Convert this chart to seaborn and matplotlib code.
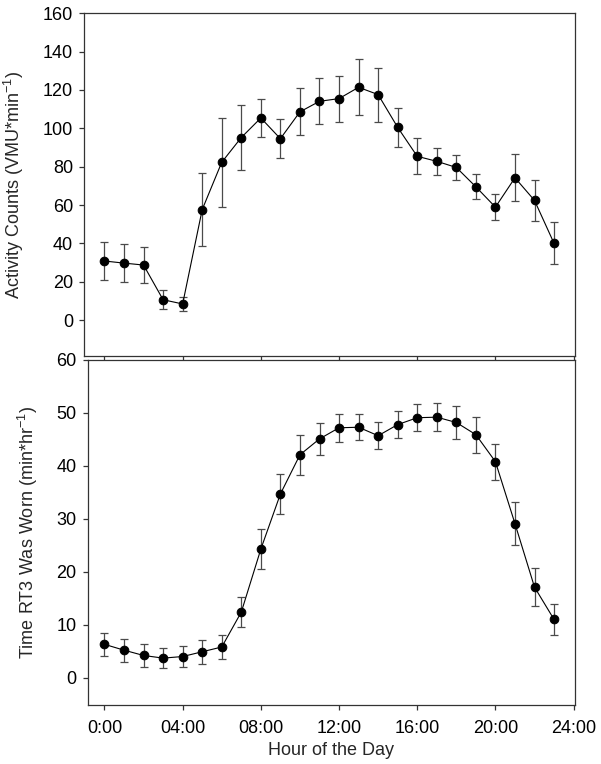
import numpy as np
import pandas as pd
import seaborn as sns
import matplotlib
matplotlib.use("Agg")
import matplotlib.pyplot as plt

# hourly data
hours = list(range(24))
activity_mean = [30.8, 29.7, 28.7, 10.6, 8.4, 57.6, 82.3, 95.2, 105.4, 94.6, 108.6, 114.1,
                 115.5, 121.4, 117.6, 100.5, 85.4, 82.8, 79.6, 69.5, 58.9, 74.2, 62.4, 40.0]
activity_se = [10.0, 9.9, 9.4, 5.0, 3.7, 19.2, 23.2, 17.0, 10.0, 10.3, 12.3, 12.0,
               12.0, 14.5, 14.1, 10.0, 9.3, 7.0, 6.7, 6.5, 6.8, 12.3, 10.7, 10.9]
worn_mean = [6.3, 5.2, 4.2, 3.7, 4.0, 4.9, 5.8, 12.4, 24.3, 34.7, 42.1, 45.1,
             47.2, 47.3, 45.7, 47.8, 49.1, 49.2, 48.2, 45.9, 40.8, 29.1, 17.1, 11.0]
worn_se = [2.15, 2.15, 2.1, 1.9, 2.05, 2.25, 2.3, 2.75, 3.8, 3.85, 3.75, 2.95,
           2.65, 2.45, 2.5, 2.5, 2.5, 2.65, 3.2, 3.4, 3.4, 4.0, 3.55, 2.85]
xtick_pos = [0, 4, 8, 12, 16, 20, 24]
xtick_labels = ["0:00", "04:00", "08:00", "12:00", "16:00", "20:00", "24:00"]

df = pd.DataFrame({"hour": hours, "activity": activity_mean, "activity_se": activity_se,
                   "worn": worn_mean, "worn_se": worn_se})

sns.set_theme(style="ticks")
plt.rcParams["font.family"] = ["Liberation Sans", "DejaVu Sans"]
plt.rcParams["mathtext.fontset"] = "custom"
plt.rcParams["mathtext.rm"] = "Liberation Sans"
plt.rcParams["mathtext.it"] = "Liberation Sans"
plt.rcParams["mathtext.default"] = "regular"
plt.rcParams["axes.unicode_minus"] = False
plt.rcParams["axes.edgecolor"] = "#333333"
plt.rcParams["axes.linewidth"] = 0.9
plt.rcParams["xtick.color"] = "#333333"
plt.rcParams["ytick.color"] = "#333333"
plt.rcParams["xtick.labelcolor"] = "black"
plt.rcParams["ytick.labelcolor"] = "black"

fs = 13

fig = plt.figure(figsize=(6.01, 7.64), dpi=100)
ax1 = fig.add_axes([0.1403, 0.5344, 0.9567 - 0.1403, 0.9826 - 0.5344])
ax2 = fig.add_axes([0.1459, 0.0776, 0.9567 - 0.1459, 0.5288 - 0.0776])


def draw(ax, col, se_col):
    ax.errorbar(df["hour"], df[col], yerr=df[se_col], fmt="none", ecolor="#4a4a4a",
                elinewidth=0.9, capsize=2.6, capthick=0.9, zorder=2)
    sns.lineplot(data=df, x="hour", y=col, ax=ax, color="black", linewidth=0.8,
                 marker="o", markersize=6.2, markeredgecolor="black", zorder=3)
    ax.tick_params(direction="out", length=3.5, width=0.9, labelsize=fs)
    ax.tick_params(axis="y", pad=4.5)
    ax.tick_params(axis="x", pad=7.5)


draw(ax1, "activity", "activity_se")
ax1.set_xlim(-1.03, 24.07)
ax1.set_ylim(-18.6, 160)
ax1.set_yticks(range(0, 161, 20))
ax1.set_xticks(xtick_pos)
ax1.set_xticklabels([])
ax1.set_xlabel("")
ax1.set_ylabel("Activity Counts (VMU*min$^{-1}$)", fontsize=fs)

draw(ax2, "worn", "worn_se")
ax2.set_xlim(-0.86, 24.07)
ax2.set_ylim(-5.1, 60)
ax2.set_yticks(range(0, 61, 10))
ax2.set_xticks(xtick_pos)
ax2.set_xticklabels(xtick_labels)
ax2.set_xlabel("Hour of the Day", fontsize=fs, labelpad=3.5)
ax2.set_ylabel("Time RT3 Was Worn (min*hr$^{-1}$)", fontsize=fs)

ax1.yaxis.set_label_coords(-0.119, 0.5)
ax2.yaxis.set_label_coords(-0.098, 0.5)

fig.savefig("out.png", dpi=100)
